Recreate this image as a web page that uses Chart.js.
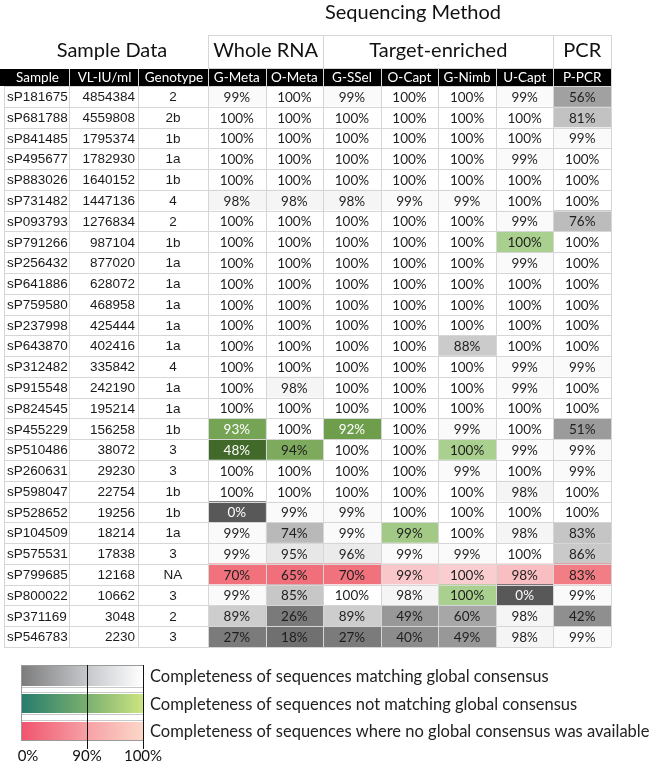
<!DOCTYPE html>
<html lang="en">
  <head>
    <meta charset="UTF-8" />
    <title>Sequencing Method</title>
    <script src="https://cdn.jsdelivr.net/npm/chart.js"></script>
    <style>
      body { margin: 0; background: #fff; }
      #wrap { position: relative; width: 650px; height: 764px; }
    </style>
  </head>
  <body>
    <div id="wrap"><canvas id="heatChart"></canvas></div>
    <script>
      // table data
      const methods = ["G-Meta", "O-Meta", "G-SSel", "O-Capt", "G-Nimb", "U-Capt", "P-PCR"];
      const groups = ["Whole RNA", "Target-enriched", "PCR"];
      const groupSizes = [2, 4, 1];
      const sampleHeaders = ["Sample", "VL-IU/ml", "Genotype"];
      const samples = ["sP181675", "sP681788", "sP841485", "sP495677", "sP883026", "sP731482", "sP093793",
        "sP791266", "sP256432", "sP641886", "sP759580", "sP237998", "sP643870", "sP312482", "sP915548",
        "sP824545", "sP455229", "sP510486", "sP260631", "sP598047", "sP528652", "sP104509", "sP575531",
        "sP799685", "sP800022", "sP371169", "sP546783"];
      const viralLoad = [4854384, 4559808, 1795374, 1782930, 1640152, 1447136, 1276834, 987104, 877020,
        628072, 468958, 425444, 402416, 335842, 242190, 195214, 156258, 38072, 29230, 22754, 19256,
        18214, 17838, 12168, 10662, 3048, 2230];
      const genotypes = ["2", "2b", "1b", "1a", "1b", "4", "2", "1b", "1a", "1a", "1a", "1a", "1a", "4",
        "1a", "1a", "1b", "3", "3", "1b", "1b", "1a", "3", "NA", "3", "2", "3"];

      const gMeta = [99, 100, 100, 100, 100, 98, 100, 100, 100, 100, 100, 100, 100, 100, 100, 100, 93, 48, 100, 100, 0, 99, 99, 70, 99, 89, 27];
      const oMeta = [100, 100, 100, 100, 100, 98, 100, 100, 100, 100, 100, 100, 100, 100, 98, 100, 100, 94, 100, 100, 99, 74, 95, 65, 85, 26, 18];
      const gSSel = [99, 100, 100, 100, 100, 98, 100, 100, 100, 100, 100, 100, 100, 100, 100, 100, 92, 100, 100, 100, 99, 99, 96, 70, 100, 89, 27];
      const oCapt = [100, 100, 100, 100, 100, 99, 100, 100, 100, 100, 100, 100, 100, 100, 100, 100, 100, 100, 100, 100, 100, 99, 99, 99, 98, 49, 40];
      const gNimb = [100, 100, 100, 100, 100, 99, 100, 100, 100, 100, 100, 100, 88, 100, 100, 100, 99, 100, 99, 100, 100, 100, 99, 100, 100, 60, 49];
      const uCapt = [99, 100, 100, 99, 100, 100, 99, 100, 99, 100, 100, 100, 100, 99, 99, 100, 100, 99, 100, 98, 100, 98, 100, 98, 0, 98, 98];
      const pPCR = [56, 81, 99, 100, 100, 100, 76, 100, 100, 100, 100, 100, 100, 99, 100, 100, 51, 99, 99, 100, 100, 83, 86, 83, 99, 42, 99];
      const completeness = [gMeta, oMeta, gSSel, oCapt, gNimb, uCapt, pPCR];

      // cells whose sequence did not match the global consensus (green)
      const notMatching = [["sP791266", "U-Capt"], ["sP455229", "G-Meta"], ["sP455229", "G-SSel"],
        ["sP510486", "G-Meta"], ["sP510486", "O-Meta"], ["sP510486", "G-Nimb"],
        ["sP104509", "O-Capt"], ["sP800022", "G-Nimb"]];
      // samples with no global consensus (red)
      const noConsensus = ["sP799685"];

      const legendLabels = ["Completeness of sequences matching global consensus",
        "Completeness of sequences not matching global consensus",
        "Completeness of sequences where no global consensus was available"];
      const legendTicks = ["0%", "90%", "100%"];

      const palettes = {
        gray: [[88, 88, 88], [206, 206, 206], [255, 255, 255]],
        green: [[30, 60, 20], [95, 145, 60], [169, 208, 142]],
        red: [[230, 60, 80], [244, 130, 138], [250, 205, 208]],
      };
      const legendPalettes = [
        [[125, 125, 125], [196, 198, 202], [255, 255, 255]],
        [[40, 125, 110], [120, 175, 110], [205, 228, 130]],
        [[240, 85, 110], [246, 160, 165], [252, 215, 200]],
      ];

      function kindOf(sample, method) {
        if (noConsensus.includes(sample)) return "red";
        if (notMatching.some((c) => c[0] === sample && c[1] === method)) return "green";
        return "gray";
      }

      function mix(a, b, t) {
        return a.map((v, k) => Math.round(v + (b[k] - v) * t));
      }

      function cellColor(v, kind) {
        const p = palettes[kind];
        const c = v <= 90 ? mix(p[0], p[1], v / 90) : mix(p[1], p[2], (v - 90) / 10);
        return "rgb(" + c.join(",") + ")";
      }

      const datasets = methods.map((m, j) => ({
        label: m,
        data: samples.map(() => [j, j + 1]),
        backgroundColor: samples.map((s, i) => cellColor(completeness[j][i], kindOf(s, m))),
        borderWidth: 0,
        grouped: false,
        barPercentage: 1,
        categoryPercentage: 1,
      }));

      const tableDecor = {
        id: "tableDecor",
        beforeDatasetsDraw(chart) {
          const ctx = chart.ctx;
          const area = chart.chartArea;
          const x = chart.scales.x;
          const y = chart.scales.y;
          ctx.save();
          ctx.textBaseline = "middle";
          ctx.textAlign = "center";
          ctx.fillStyle = "#111";
          ctx.font = "20px Lato";
          ctx.fillText("Sequencing Method", 413, 13);

          // group header boxes
          ctx.strokeStyle = "#d6d6d6";
          ctx.lineWidth = 1;
          ctx.font = "20px Lato";
          ctx.fillText("Sample Data", 112, 51);
          let start = 0;
          groups.forEach((g, k) => {
            const x0 = x.getPixelForValue(start);
            const x1 = x.getPixelForValue(start + groupSizes[k]);
            ctx.strokeRect(Math.round(x0) + 0.5, 35.5, Math.round(x1 - x0), 33);
            ctx.fillText(g, (x0 + x1) / 2, 51);
            start += groupSizes[k];
          });

          // black header bar
          ctx.fillStyle = "#000";
          ctx.fillRect(0, 69, area.right, 17);
          const sampleCols = [4, 69, 138, area.left];
          ctx.fillStyle = "#fff";
          ctx.font = "13.5px Lato";
          sampleHeaders.forEach((h, k) => {
            ctx.fillText(h, (sampleCols[k] + sampleCols[k + 1]) / 2 + 1, 78);
          });
          methods.forEach((m, j) => {
            ctx.fillText(m, x.getPixelForValue(j + 0.5), 78);
          });
          ctx.fillStyle = "#d8d8d8";
          sampleCols.slice(1).forEach((c) => ctx.fillRect(c, 69, 1, 17));
          methods.forEach((m, j) => ctx.fillRect(Math.round(x.getPixelForValue(j + 1)), 69, 1, 17));

          // sample data columns
          ctx.fillStyle = "#1a1a1a";
          ctx.font = "13.5px 'Liberation Sans'";
          samples.forEach((s, i) => {
            const py = y.getPixelForValue(i) + 1;
            ctx.textAlign = "left";
            ctx.fillText(s, 7, py);
            ctx.textAlign = "right";
            ctx.fillText(String(viralLoad[i]), 135, py);
            ctx.textAlign = "center";
            ctx.fillText(genotypes[i], 173, py);
          });
          ctx.restore();
        },
        afterDatasetsDraw(chart) {
          const ctx = chart.ctx;
          const area = chart.chartArea;
          const x = chart.scales.x;
          const y = chart.scales.y;
          const band = (area.bottom - area.top) / samples.length;
          ctx.save();

          // grid lines
          ctx.fillStyle = "#d6d6d6";
          for (let i = 0; i <= samples.length; i++) {
            const py = Math.round(area.top + i * band);
            ctx.fillRect(4, py, area.right - 4, 1);
          }
          [4, 69, 138].forEach((c) => ctx.fillRect(c, area.top, 1, area.bottom - area.top));
          for (let j = 0; j <= methods.length; j++) {
            ctx.fillRect(Math.round(x.getPixelForValue(j)), area.top, 1, area.bottom - area.top);
          }

          // cell labels
          ctx.textAlign = "center";
          ctx.textBaseline = "middle";
          ctx.font = "13.5px Lato";
          methods.forEach((m, j) => {
            const meta = chart.getDatasetMeta(j);
            meta.data.forEach((bar, i) => {
              const v = completeness[j][i];
              const kind = kindOf(samples[i], m);
              ctx.fillStyle = v === 0 || (kind === "green" && v < 94) ? "#fff" : "#1e1e1e";
              ctx.fillText(v + "%", (bar.x + bar.base) / 2, bar.y + 1);
            });
          });

          // legend
          const lx0 = 22, lx90 = 87, lx1 = 143;
          const rows = [[666, 20], [694, 19], [722, 18]];
          legendPalettes.forEach((p, k) => {
            const [ty, h] = rows[k];
            const grad = ctx.createLinearGradient(lx0, 0, lx1, 0);
            grad.addColorStop(0, "rgb(" + p[0].join(",") + ")");
            grad.addColorStop(0.53, "rgb(" + p[1].join(",") + ")");
            grad.addColorStop(1, "rgb(" + p[2].join(",") + ")");
            ctx.fillStyle = grad;
            ctx.fillRect(lx0, ty, lx1 - lx0, h);
            ctx.fillStyle = "#222";
            ctx.font = "16.5px Lato";
            ctx.textAlign = "left";
            ctx.fillText(legendLabels[k], 150, ty + h / 2 + 1);
          });
          ctx.strokeStyle = "#9a9a9a";
          ctx.lineWidth = 1;
          ctx.strokeRect(lx0 - 0.5, 665.5, lx1 - lx0 + 1, 75);
          ctx.fillStyle = "#c8c8c8";
          ctx.fillRect(lx0, 687, lx1 - lx0, 6);
          ctx.fillRect(lx0, 714, lx1 - lx0, 7);
          ctx.fillStyle = "#fff";
          ctx.fillRect(lx0, 688, lx1 - lx0, 4);
          ctx.fillRect(lx0, 715, lx1 - lx0, 5);
          ctx.fillStyle = "#111";
          ctx.fillRect(lx90, 665, 1, 84);
          ctx.fillRect(lx1, 665, 1, 84);
          ctx.font = "15px Lato";
          ctx.textAlign = "center";
          [lx0 + 6, lx90, lx1].forEach((px, k) => ctx.fillText(legendTicks[k], px, 756));
          ctx.restore();
        },
      };

      new Chart(document.getElementById("heatChart"), {
        type: "bar",
        data: { labels: samples, datasets: datasets },
        options: {
          indexAxis: "y",
          responsive: true,
          maintainAspectRatio: false,
          animation: false,
          events: [],
          layout: { padding: { left: 208, right: 39, top: 86, bottom: 117 } },
          scales: {
            x: { type: "linear", min: 0, max: methods.length, display: false },
            y: { type: "category", display: false, offset: true },
          },
          plugins: { legend: { display: false }, tooltip: { enabled: false } },
        },
        plugins: [tableDecor],
      });
    </script>
  </body>
</html>
